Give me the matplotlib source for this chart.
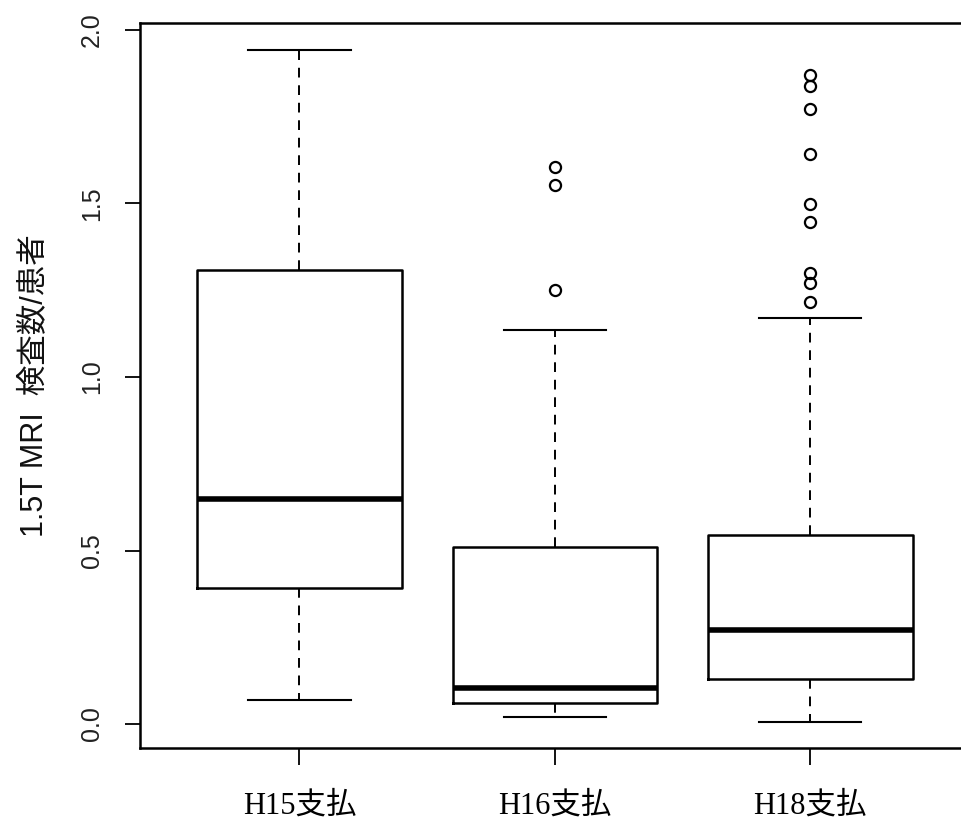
import matplotlib
matplotlib.use("Agg")
import matplotlib.pyplot as plt

categories = ["H15支払", "H16支払", "H18支払"]
whislo = [0.07, 0.02, 0.006]
q1 = [0.392, 0.06, 0.13]
med = [0.648, 0.104, 0.271]
q3 = [1.308, 0.51, 0.545]
whishi = [1.942, 1.135, 1.17]
fliers_h15 = []
fliers_h16 = [1.605, 1.553, 1.251]
fliers_h18 = [1.870, 1.839, 1.772, 1.643, 1.499, 1.447, 1.300, 1.271, 1.216]
yticks = [0.0, 0.5, 1.0, 1.5, 2.0]
ylabel = "1.5T MRI  検査数/患者"

fliers = [fliers_h15, fliers_h16, fliers_h18]
stats = []
for i, c in enumerate(categories):
    stats.append(dict(label=c, whislo=whislo[i], q1=q1[i], med=med[i],
                      q3=q3[i], whishi=whishi[i], fliers=fliers[i]))

fig = plt.figure(figsize=(9.61, 8.30), dpi=100)
ax = fig.add_axes([140/961, 82/830, 830/961, 725/830])

ax.bxp(stats, positions=[1, 2, 3], widths=0.8,
       boxprops=dict(color="black", linewidth=1.8),
       medianprops=dict(color="black", linewidth=4),
       whiskerprops=dict(color="black", linewidth=1.4, linestyle=(0, (5, 4))),
       capprops=dict(color="black", linewidth=1.5),
       capwidths=0.4,
       flierprops=dict(marker="o", markerfacecolor="none", markeredgecolor="black",
                       markersize=8, markeredgewidth=1.6, linestyle="none"))

ax.set_xlim(0.376, 3.625)
ax.set_ylim(-0.069, 2.02)

ax.set_yticks(yticks)
ax.set_yticklabels([f"{v:.1f}" for v in yticks], rotation=90, va="center",
                   fontsize=18, family=["Liberation Sans", "DejaVu Sans"], color="#222222")
ax.set_xticks([1, 2, 3])
ax.set_xticklabels(categories, fontsize=22,
                   family=["Liberation Serif", "Noto Sans CJK JP"])
ax.tick_params(axis="y", length=11, width=1.3, pad=15, direction="out")
ax.tick_params(axis="x", length=12, width=1.3, pad=19, direction="out")

for s in ax.spines.values():
    s.set_linewidth(1.8)
ax.spines["right"].set_visible(False)

ax.set_ylabel(ylabel, fontsize=22, family=["Liberation Sans", "Noto Sans CJK JP"],
              color="#111111")
ax.yaxis.set_label_coords(-0.109, 0.5)

fig.savefig("out.png", dpi=100)
